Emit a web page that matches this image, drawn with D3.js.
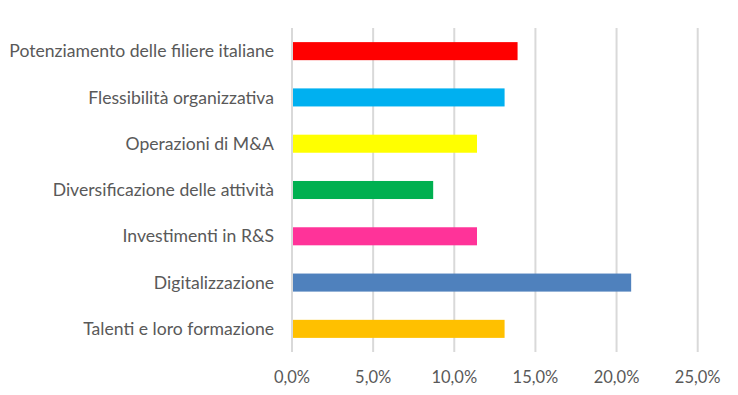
<!DOCTYPE html>
<html>
<head>
<meta charset="utf-8">
<script src="https://cdn.jsdelivr.net/npm/d3@7"></script>
<style>
  body { margin: 0; background: #fff; }
  text { font-family: Lato, sans-serif; fill: #595959; }
</style>
</head>
<body>
<svg width="738" height="395"></svg>
<script>
let categories = [
  "Potenziamento delle filiere italiane",
  "Flessibilità organizzativa",
  "Operazioni di M&A",
  "Diversificazione delle attività",
  "Investimenti in R&S",
  "Digitalizzazione",
  "Talenti e loro formazione"
];
let values = [13.9, 13.1, 11.4, 8.7, 11.4, 20.9, 13.1];
let colors = ["#FF0000", "#00B0F0", "#FFFF00", "#00B050", "#FF3399", "#4F81BD", "#FFC000"];
let ticks = [0, 5, 10, 15, 20, 25];

let margin = {top: 28, left: 292},
    width = 697.7 - 292,
    height = 352 - 28;

var svg = d3.select("svg");
var g = svg.append("g")
    .attr("transform", `translate(${margin.left},${margin.top})`);

var x = d3.scaleLinear().domain([0, 25]).range([0, width]);
var y = d3.scaleBand().domain(categories).range([0, height]).paddingInner(0.61).paddingOuter(0.305);

// gridlines
g.selectAll(".grid")
    .data(ticks)
    .enter()
    .append("line")
    .attr("x1", d => x(d))
    .attr("x2", d => x(d))
    .attr("y1", 0)
    .attr("y2", height)
    .attr("stroke", "#D9D9D9")
    .attr("stroke-width", 2);

// bars
g.selectAll(".bar")
    .data(values)
    .enter()
    .append("rect")
    .attr("x", x(0) + 1)
    .attr("y", (d, i) => y(categories[i]))
    .attr("width", d => x(d) - x(0) - 1)
    .attr("height", y.bandwidth())
    .attr("fill", (d, i) => colors[i]);

// category labels
g.selectAll(".cat")
    .data(categories)
    .enter()
    .append("text")
    .attr("x", -18)
    .attr("y", d => y(d) + y.bandwidth() / 2)
    .attr("dy", "0.35em")
    .attr("text-anchor", "end")
    .attr("font-size", 17.6)
    .text(d => d);

// tick labels
g.selectAll(".tick-label")
    .data(ticks)
    .enter()
    .append("text")
    .attr("x", d => x(d))
    .attr("y", height + 25)
    .attr("dy", "0.35em")
    .attr("text-anchor", "middle")
    .attr("font-size", 16.5)
    .text(d => d3.format(".1f")(d).replace(".", ",") + "%");
</script>
</body>
</html>
